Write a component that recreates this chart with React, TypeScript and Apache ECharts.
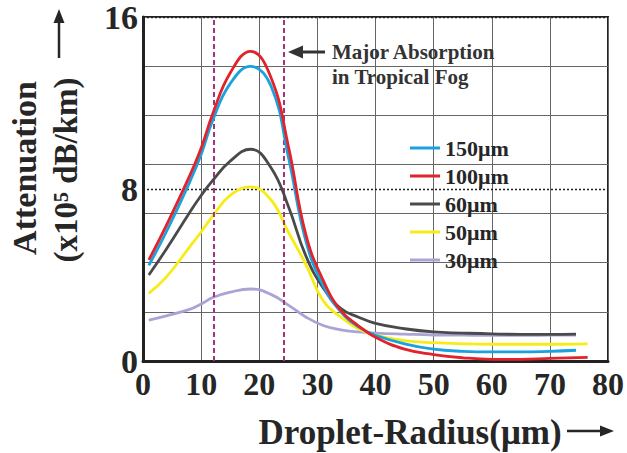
import React, { useEffect, useRef } from "react";
import * as echarts from "echarts";

// Droplet radius (µm) sample positions
const radiusA = [1, 4, 8, 10, 12, 15, 18.5, 22, 25, 28, 31, 34, 37, 40, 45, 50, 55, 60, 65, 70, 76.5];
const radiusB = [1, 4, 8, 10, 12, 15, 18.5, 22, 25, 28, 31, 34, 37, 40, 45, 50, 55, 60, 65, 70, 74.5];

// Attenuation (x10^5 dB/km)
const att150 = [4.45, 6.0, 8.3, 9.6, 11.2, 12.9, 13.7, 12.8, 9.5, 5.6, 3.5, 2.3, 1.6, 1.2, 0.8, 0.55, 0.45, 0.42, 0.42, 0.45, 0.5];
const att100 = [4.7, 6.3, 8.6, 9.9, 11.5, 13.4, 14.4, 13.2, 10.0, 5.9, 3.75, 2.35, 1.65, 1.1, 0.55, 0.3, 0.15, 0.08, 0.08, 0.12, 0.17];
const att60 = [4.0, 5.2, 6.9, 7.7, 8.4, 9.3, 9.85, 9.0, 7.2, 4.9, 3.4, 2.45, 2.05, 1.75, 1.5, 1.35, 1.3, 1.26, 1.24, 1.24, 1.25];
const att50 = [3.15, 3.9, 5.3, 6.0, 6.75, 7.7, 8.1, 7.5, 6.0, 4.5, 2.8, 2.05, 1.5, 1.2, 0.95, 0.85, 0.8, 0.78, 0.78, 0.78, 0.8];
const att30 = [1.9, 2.1, 2.4, 2.65, 2.95, 3.2, 3.35, 3.1, 2.6, 2.05, 1.65, 1.45, 1.35, 1.3, 1.25, 1.21, 1.2, 1.19, 1.19, 1.2, 1.21];

const seriesNames = ["150\u03bcm", "100\u03bcm", "60\u03bcm", "50\u03bcm", "30\u03bcm"];
const seriesColors = ["#1aa2de", "#e2232b", "#4a4a4a", "#f7ec18", "#aaa4d6"];

// Absorption band boundaries (µm)
const bandEdges = [12.2, 24.3];

const xTicks = { min: 0, max: 80, interval: 10 };
const yTicks = { min: 0, max: 16, interval: 8 };

const FONT = "'Liberation Serif', 'Times New Roman', serif";
const INK = "#262626";

function pairs(xs: number[], ys: number[]) {
  return ys.map((y, i) => [xs[i], y]);
}

export default function App() {
  const ref = useRef<HTMLDivElement>(null);

  useEffect(() => {
    document.body.style.margin = "0";
    if (!ref.current) return;
    const chart = echarts.init(ref.current, undefined, { renderer: "svg" });

    const dataSets = [
      pairs(radiusB, att150),
      pairs(radiusA, att100),
      pairs(radiusB, att60),
      pairs(radiusA, att50),
      pairs(radiusB, att30),
    ];

    const drawOrder = [4, 3, 2, 0, 1];
    const series: any[] = drawOrder.map((i, k) => ({
      name: seriesNames[i],
      type: "line",
      data: dataSets[i],
      smooth: 0.45,
      showSymbol: false,
      symbol: "none",
      lineStyle: { color: seriesColors[i], width: 2.8 },
      itemStyle: { color: seriesColors[i] },
      z: 3 + k,
      ...(k === 0
        ? {
            markLine: {
              silent: true,
              symbol: ["none", "none"],
              label: { show: false },
              lineStyle: { color: "#a4337f", type: [5, 3], width: 2 },
              data: bandEdges.map((v) => ({ xAxis: v })),
            },
          }
        : {}),
    }));

    chart.setOption({
      animation: false,
      grid: {
        left: 143,
        right: 17,
        top: 17,
        bottom: 92,
        show: true,
        borderColor: "#222",
        borderWidth: 2,
      },
      legend: {
        data: seriesNames,
        orient: "vertical",
        left: 405,
        top: 132,
        itemGap: 6,
        itemWidth: 30,
        itemHeight: 3,
        icon: "rect",
        selectedMode: false,
        textStyle: {
          fontFamily: FONT,
          fontWeight: "bold",
          fontSize: 22,
          lineHeight: 22,
          color: INK,
        },
      },
      xAxis: {
        type: "value",
        min: xTicks.min,
        max: xTicks.max,
        interval: xTicks.interval,
        axisLine: { show: true, lineStyle: { color: "#222", width: 3 } },
        axisTick: { show: false },
        axisLabel: {
          margin: 7,
          fontFamily: FONT,
          fontWeight: "bold",
          fontSize: 32,
          color: INK,
        },
        splitLine: { show: true, lineStyle: { color: "#666", width: 1 } },
      },
      yAxis: [
        {
          type: "value",
          min: yTicks.min,
          max: yTicks.max,
          interval: yTicks.interval,
          axisLine: { show: true, lineStyle: { color: "#222", width: 3 } },
          axisTick: { show: false },
          axisLabel: {
            margin: 5,
            fontFamily: FONT,
            fontWeight: "bold",
            fontSize: 34,
            color: INK,
          },
          splitLine: {
            show: true,
            lineStyle: { color: "#222", width: 1.3, type: [2, 2] },
          },
          z: 2,
        },
        {
          type: "value",
          min: 0,
          max: 7,
          interval: 1,
          position: "right",
          axisLine: { show: false },
          axisTick: { show: false },
          axisLabel: { show: false },
          splitLine: { show: true, lineStyle: { color: "#666", width: 1 } },
        },
      ],
      graphic: [
        // y axis title
        {
          type: "text",
          x: 24,
          y: 168,
          rotation: Math.PI / 2,
          style: {
            text: "Attenuation",
            fontFamily: FONT,
            fontWeight: "bold",
            fontSize: 34,
            fill: INK,
            align: "center",
            verticalAlign: "middle",
            textAlign: "center",
            textVerticalAlign: "middle",
          },
        },
        {
          type: "text",
          x: 66,
          y: 170,
          rotation: Math.PI / 2,
          style: {
            text: "(x10\u2075 dB/km)",
            fontFamily: FONT,
            fontWeight: "bold",
            fontSize: 33,
            fill: INK,
            align: "center",
            verticalAlign: "middle",
            textAlign: "center",
            textVerticalAlign: "middle",
          },
        },
        {
          type: "line",
          shape: { x1: 59, y1: 58, x2: 59, y2: 20 },
          style: { stroke: INK, lineWidth: 2.5 },
        },
        {
          type: "polygon",
          shape: { points: [[59, 9], [53.5, 23], [64.5, 23]] },
          style: { fill: INK },
        },
        // x axis title
        {
          type: "text",
          x: 410,
          y: 432,
          style: {
            text: "Droplet-Radius(\u03bcm)",
            fontFamily: FONT,
            fontWeight: "bold",
            fontSize: 35,
            fill: INK,
            align: "center",
            verticalAlign: "middle",
            textAlign: "center",
            textVerticalAlign: "middle",
          },
        },
        {
          type: "line",
          shape: { x1: 567, y1: 431, x2: 603, y2: 431 },
          style: { stroke: INK, lineWidth: 2.5 },
        },
        {
          type: "polygon",
          shape: { points: [[614, 431], [600, 425.5], [600, 436.5]] },
          style: { fill: INK },
        },
        // annotation
        {
          type: "line",
          shape: { x1: 298, y1: 52, x2: 325, y2: 52 },
          style: { stroke: "#333", lineWidth: 3 },
          z: 10,
        },
        {
          type: "polygon",
          shape: { points: [[288, 52], [303, 45.5], [303, 58.5]] },
          style: { fill: "#333" },
          z: 10,
        },
        {
          type: "text",
          x: 332,
          y: 52,
          style: {
            text: "Major Absorption",
            fontFamily: FONT,
            fontWeight: "bold",
            fontSize: 21,
            fill: "#333",
            align: "left",
            verticalAlign: "middle",
            textAlign: "left",
            textVerticalAlign: "middle",
          },
          z: 10,
        },
        {
          type: "text",
          x: 332,
          y: 77,
          style: {
            text: "in Tropical Fog",
            fontFamily: FONT,
            fontWeight: "bold",
            fontSize: 21,
            fill: "#333",
            align: "left",
            verticalAlign: "middle",
            textAlign: "left",
            textVerticalAlign: "middle",
          },
          z: 10,
        },
      ],
      series,
    });

    return () => chart.dispose();
  }, []);

  return <div ref={ref} style={{ width: 627, height: 453 }} />;
}
